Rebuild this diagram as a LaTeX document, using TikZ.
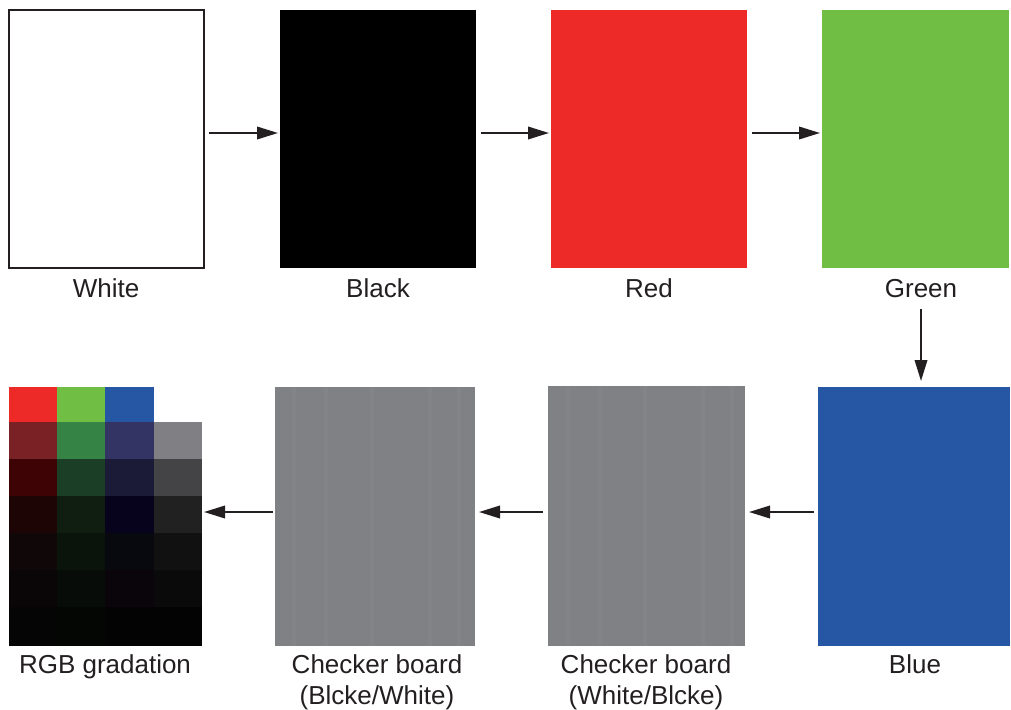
\documentclass[tikz,border=0pt]{standalone}
\usepackage{fontspec}
\setmainfont{Liberation Sans}
\usetikzlibrary{arrows.meta}
\definecolor{txt}{RGB}{35,31,32}
\definecolor{cred}{RGB}{238,42,41}
\definecolor{cgreen}{RGB}{112,190,68}
\definecolor{cblue}{RGB}{37,87,165}
\definecolor{cgray}{RGB}{128,129,133}
\definecolor{cgrayl}{RGB}{131,132,136}
\tikzset{
  panel/.style={rectangle, inner sep=0pt, outer sep=0pt},
  lbl/.style={text=txt, inner sep=0pt, align=center, anchor=base, font=\fontsize{26}{31}\selectfont},
  arr/.style={draw=txt, line width=2pt, -{Triangle[length=21pt,width=12.5pt]}},
}
\begin{document}
\begin{tikzpicture}[x=1pt,y=-1pt]
\useasboundingbox (0,0) rectangle (1011,709);
\coordinate (r1) at (0,133);
\coordinate (r2) at (0,512);
% top row
\node[panel, minimum width=195pt, minimum height=258pt, draw=txt, line width=2pt, fill=white] (white) at (106.5,139) {};
\node[panel, minimum width=196pt, minimum height=258pt, fill=black] (black) at (378,139) {};
\node[panel, minimum width=196pt, minimum height=258pt, fill=cred] (red) at (649,139) {};
\node[panel, minimum width=187pt, minimum height=258pt, fill=cgreen] (green) at (915.5,139) {};
% bottom row
\node[panel, minimum width=192pt, minimum height=259pt, fill=cblue] (blue) at (914,516.5) {};
\node[panel, minimum width=197pt, minimum height=260pt, fill=cgray] (wb) at (646.5,516) {};
\node[panel, minimum width=200pt, minimum height=259pt, fill=cgray] (bw) at (375,516.5) {};
\node[panel, minimum width=193pt, minimum height=259pt] (rgb) at (105.5,516.5) {};
% faint stripes on checker boards
\foreach \xx in {566,598,643,701,730}{
  \fill[cgrayl] (\xx,386) rectangle ++(4,260);
}
\foreach \xx in {292,324,370,428,457}{
  \fill[cgrayl] (\xx,387) rectangle ++(4,259);
}
% RGB gradation cells
\newcommand{\cell}[5]{\fill[fill={rgb,255:red,#3;green,#4;blue,#5}] (#1) rectangle (#2);}
% row 1
\cell{9,387}{57,422}{238}{42}{41}
\cell{57,387}{105,422}{112}{190}{68}
\cell{105,387}{154,422}{37}{87}{165}
% row 2
\cell{9,422}{57,459}{122}{33}{38}
\cell{57,422}{105,459}{53}{131}{69}
\cell{105,422}{154,459}{52}{52}{100}
\cell{154,422}{202,459}{128}{128}{132}
% row 3
\cell{9,459}{57,496}{62}{3}{5}
\cell{57,459}{105,496}{27}{62}{38}
\cell{105,459}{154,496}{27}{27}{56}
\cell{154,459}{202,496}{68}{68}{70}
% row 4
\cell{9,496}{57,533}{30}{5}{5}
\cell{57,496}{105,533}{15}{30}{16}
\cell{105,496}{154,533}{8}{3}{28}
\cell{154,496}{202,533}{33}{33}{33}
% row 5
\cell{9,533}{57,570}{15}{7}{8}
\cell{57,533}{105,570}{10}{20}{10}
\cell{105,533}{154,570}{8}{8}{15}
\cell{154,533}{202,570}{17}{17}{17}
% row 6
\cell{9,570}{57,607}{10}{5}{6}
\cell{57,570}{105,607}{8}{12}{8}
\cell{105,570}{154,607}{10}{5}{10}
\cell{154,570}{202,607}{10}{10}{10}
% row 7
\cell{9,607}{57,646}{5}{5}{5}
\cell{57,607}{105,646}{4}{6}{4}
\cell{105,607}{154,646}{3}{3}{3}
\cell{154,607}{202,646}{3}{3}{3}
% labels
\node[lbl] (lwhite) at (106,297) {White};
\node[lbl] (lblack) at (378,297) {Black};
\node[lbl] (lred) at (649,297) {Red};
\node[lbl] (lgreen) at (921,297) {Green};
\node[lbl] (lblue) at (915,673) {Blue};
\node[lbl] (lwb) at (646,704) {Checker board\\(White/Blcke)};
\node[lbl] (lbw) at (377,704) {Checker board\\(Blcke/White)};
\node[lbl] (lrgb) at (105,673) {RGB gradation};
% arrows
\draw[arr, shorten <=5pt, shorten >=2pt] (white.east |- r1) -- (black.west |- r1);
\draw[arr, shorten <=5pt, shorten >=2pt] (black.east |- r1) -- (red.west |- r1);
\draw[arr, shorten <=5pt, shorten >=2pt] (red.east |- r1) -- (green.west |- r1);
\draw[arr, shorten <=41pt, shorten >=6pt] ([xshift=5.5pt]green.south) -- ([xshift=7pt]blue.north);
\draw[arr, shorten <=4pt, shorten >=4pt] (blue.west |- r2) -- (wb.east |- r2);
\draw[arr, shorten <=5pt, shorten >=4pt] (wb.west |- r2) -- (bw.east |- r2);
\draw[arr, shorten <=2pt, shorten >=2pt] (bw.west |- r2) -- (rgb.east |- r2);
\end{tikzpicture}
\end{document}
